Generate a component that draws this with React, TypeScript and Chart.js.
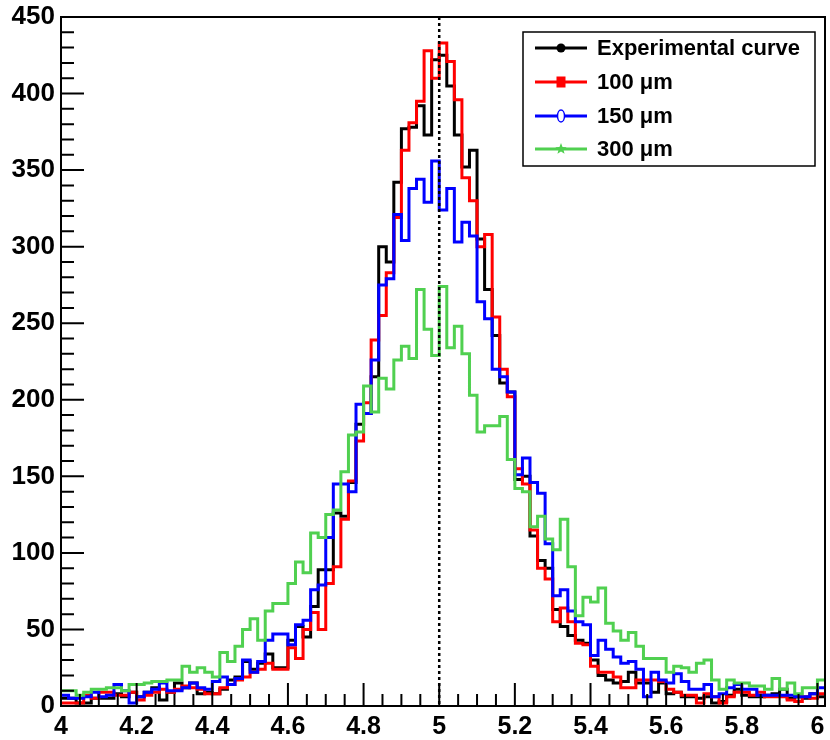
import React, { useEffect, useRef } from "react";
import { Chart, registerables } from "chart.js";

Chart.register(...registerables);

// Histogram binning (left edge of first bin, bin width)
const BIN_START = 4;
const BIN_WIDTH = 0.02;

// Series values (counts per bin, 101 bins from 4.00 to 6.02)
const experimental = [
  5, 5, 2, 2, 5, 5, 5, 8, 6, 9,
  6, 9, 12, 4, 9, 15, 12, 15, 8, 9,
  8, 11, 17, 19, 29, 24, 28, 34, 25, 25,
  43, 52, 45, 65, 89, 89, 126, 124, 146, 184,
  191, 215, 300, 290, 342, 377, 378, 392, 373, 422,
  425, 405, 373, 352, 363, 305, 272, 242, 211, 205,
  148, 150, 111, 95, 90, 63, 52, 46, 43, 41,
  30, 20, 17, 15, 16, 22, 15, 15, 9, 15,
  8, 9, 6, 6, 5, 6, 2, 3, 7, 11,
  7, 6, 6, 7, 8, 11, 5, 6, 5, 8,
  6,
];
const um100 = [
  2, 2, 2, 7, 5, 9, 9, 7, 7, 9,
  4, 7, 9, 11, 9, 11, 13, 12, 11, 8,
  8, 12, 14, 17, 19, 22, 24, 28, 24, 24,
  38, 31, 50, 61, 50, 80, 91, 122, 147, 173,
  198, 239, 255, 283, 319, 363, 381, 395, 428, 410,
  433, 421, 396, 345, 330, 300, 308, 254, 220, 202,
  155, 145, 115, 90, 83, 55, 64, 55, 41, 40,
  26, 22, 22, 19, 12, 12, 17, 17, 17, 16,
  11, 9, 7, 7, 2, 8, 6, 2, 6, 9,
  9, 7, 9, 6, 6, 6, 4, 3, 6, 5,
  8,
];
const um150 = [
  7, 5, 5, 6, 9, 6, 7, 14, 10, 2,
  6, 9, 11, 15, 10, 10, 12, 15, 12, 11,
  16, 19, 14, 18, 30, 22, 29, 43, 47, 47,
  40, 53, 56, 76, 79, 110, 145, 145, 140, 197,
  191, 226, 275, 279, 321, 304, 338, 344, 329, 356,
  324, 338, 303, 316, 307, 264, 253, 220, 215, 205,
  151, 162, 146, 139, 106, 72, 76, 62, 55, 53,
  33, 43, 37, 32, 28, 29, 24, 6, 22, 17,
  15, 21, 16, 11, 11, 14, 6, 8, 12, 14,
  11, 11, 7, 7, 7, 7, 7, 6, 6, 8,
  12,
];
const um300 = [
  10, 10, 7, 9, 11, 11, 12, 12, 10, 14,
  14, 15, 16, 16, 17, 17, 26, 22, 25, 22,
  19, 35, 29, 39, 50, 57, 43, 62, 67, 67,
  80, 94, 87, 113, 110, 125, 128, 153, 177, 179,
  209, 192, 214, 207, 226, 235, 227, 272, 246, 229,
  274, 234, 248, 230, 203, 179, 183, 183, 189, 161,
  142, 140, 117, 124, 109, 102, 122, 91, 59, 71,
  68, 77, 54, 49, 43, 48, 39, 31, 31, 31,
  22, 26, 25, 22, 28, 30, 17, 11, 17, 15,
  15, 13, 13, 11, 18, 11, 15, 8, 12, 12,
  17,
];

const seriesLabels = ["Experimental curve", "100 \u03bcm", "150 \u03bcm", "300 \u03bcm"];
const seriesColors = ["#000000", "#ff0000", "#0000ff", "#50d050"];
const seriesMarkers = ["circle", "square", "openCircle", "star"];
const REFERENCE_X = 5;
const X_MIN = 4;
const X_MAX = 6.02;
const Y_MIN = 0;
const Y_MAX = 450;

function toSteps(values: number[]) {
  const pts = values.map((v, i) => ({ x: BIN_START + i * BIN_WIDTH, y: v }));
  pts.push({ x: BIN_START + values.length * BIN_WIDTH, y: values[values.length - 1] });
  return pts;
}

const FONT_FAMILY = '"Liberation Sans", Arial, sans-serif';

const rootStylePlugin = {
  id: "rootStyle",
  afterDatasetsDraw(chart: any) {
    const { ctx, chartArea: a, scales } = chart;
    const x = scales.x;
    const y = scales.y;
    ctx.save();
    // dotted reference line
    ctx.strokeStyle = "#000";
    ctx.lineWidth = 2.5;
    ctx.setLineDash([3, 3]);
    const rx = x.getPixelForValue(REFERENCE_X);
    ctx.beginPath();
    ctx.moveTo(rx, a.top);
    ctx.lineTo(rx, a.bottom);
    ctx.stroke();
    ctx.setLineDash([]);

    // frame
    ctx.lineWidth = 2;
    ctx.strokeRect(a.left, a.top, a.right - a.left, a.bottom - a.top);

    // ticks (inside)
    ctx.lineWidth = 2;
    ctx.beginPath();
    for (let v = Y_MIN; v <= Y_MAX; v += 10) {
      const py = y.getPixelForValue(v);
      const len = v % 50 === 0 ? 23 : 13;
      ctx.moveTo(a.left, py);
      ctx.lineTo(a.left + len, py);
    }
    for (let k = 0; k <= 40; k++) {
      const v = X_MIN + k * 0.05;
      const px = x.getPixelForValue(v);
      const len = k % 4 === 0 ? 23 : 12;
      ctx.moveTo(px, a.bottom);
      ctx.lineTo(px, a.bottom - len);
    }
    ctx.stroke();

    // legend
    const bx = 523, by = 32, bw = 292, bh = 134;
    ctx.fillStyle = "#fff";
    ctx.fillRect(bx, by, bw, bh);
    ctx.strokeStyle = "#000";
    ctx.lineWidth = 1.5;
    ctx.strokeRect(bx, by, bw, bh);
    const rows = [48, 82, 116, 149];
    ctx.font = "bold 22px " + FONT_FAMILY;
    ctx.textBaseline = "middle";
    ctx.textAlign = "left";
    seriesLabels.forEach((label, i) => {
      const cy = rows[i];
      const col = seriesColors[i];
      ctx.strokeStyle = col;
      ctx.fillStyle = col;
      ctx.lineWidth = 3;
      ctx.beginPath();
      ctx.moveTo(535, cy);
      ctx.lineTo(587, cy);
      ctx.stroke();
      const mx = 561;
      const m = seriesMarkers[i];
      if (m === "circle") {
        ctx.beginPath();
        ctx.arc(mx, cy, 4.5, 0, Math.PI * 2);
        ctx.fill();
      } else if (m === "square") {
        ctx.fillRect(mx - 4.5, cy - 5.5, 9, 11);
      } else if (m === "openCircle") {
        ctx.fillStyle = "#fff";
        ctx.beginPath();
        ctx.ellipse(mx, cy, 3.5, 6, 0, 0, Math.PI * 2);
        ctx.fill();
        ctx.lineWidth = 1.5;
        ctx.stroke();
      } else {
        ctx.beginPath();
        for (let k = 0; k < 10; k++) {
          const r = k % 2 === 0 ? 6 : 2.6;
          const ang = -Math.PI / 2 + (k * Math.PI) / 5;
          const px = mx + r * Math.cos(ang);
          const py = cy + r * Math.sin(ang);
          if (k === 0) ctx.moveTo(px, py);
          else ctx.lineTo(px, py);
        }
        ctx.closePath();
        ctx.fill();
      }
      ctx.fillStyle = "#000";
      ctx.fillText(label, 597, cy + 1);
    });
    ctx.restore();
  },
};

const bgPlugin = {
  id: "bg",
  beforeDraw(chart: any) {
    const { ctx, width, height } = chart;
    ctx.save();
    ctx.fillStyle = "#fff";
    ctx.fillRect(0, 0, width, height);
    ctx.restore();
  },
};

export default function App() {
  const ref = useRef<HTMLCanvasElement | null>(null);
  useEffect(() => {
    if (!ref.current) return;
    const series = [experimental, um100, um150, um300];
    const drawOrder = [3, 2, 1, 0];
    const chart = new Chart(ref.current, {
      type: "line",
      data: {
        datasets: series.map((vals, i) => ({
          label: seriesLabels[i],
          data: toSteps(vals),
          borderColor: seriesColors[i],
          backgroundColor: seriesColors[i],
          borderWidth: 3,
          pointRadius: 0,
          stepped: true,
          fill: false,
          order: drawOrder[i],
        })),
      },
      options: {
        responsive: false,
        maintainAspectRatio: false,
        animation: false,
        events: [],
        layout: { padding: { top: 17, right: 5, left: 0, bottom: 0 } },
        plugins: { legend: { display: false }, tooltip: { enabled: false } },
        scales: {
          x: {
            type: "linear",
            min: X_MIN,
            max: X_MAX,
            border: { display: false },
            grid: { display: false, drawTicks: false },
            ticks: {
              stepSize: 0.2,
              includeBounds: false,
              autoSkip: false,
              maxRotation: 0,
              padding: 6,
              color: "#000",
              font: { family: FONT_FAMILY, size: 25, weight: "bold" },
              callback: (v: any) => String(Math.round(Number(v) * 10) / 10),
            },
            afterFit: (s: any) => {
              s.height = 34;
              s.paddingLeft = 0;
              s.paddingRight = 0;
            },
          },
          y: {
            type: "linear",
            min: Y_MIN,
            max: Y_MAX,
            border: { display: false },
            grid: { display: false, drawTicks: false },
            ticks: {
              stepSize: 50,
              padding: 6,
              color: "#000",
              font: { family: FONT_FAMILY, size: 26, weight: "bold" },
            },
            afterFit: (s: any) => {
              s.width = 61;
              s.paddingTop = 0;
              s.paddingBottom = 0;
            },
          },
        },
      } as any,
      plugins: [bgPlugin, rootStylePlugin],
    });
    return () => chart.destroy();
  }, []);
  return (
    <div style={{ position: "absolute", left: 0, top: 0, width: 830, height: 740, background: "#fff" }}>
      <canvas ref={ref} width={830} height={740} style={{ width: 830, height: 740 }} />
    </div>
  );
}
